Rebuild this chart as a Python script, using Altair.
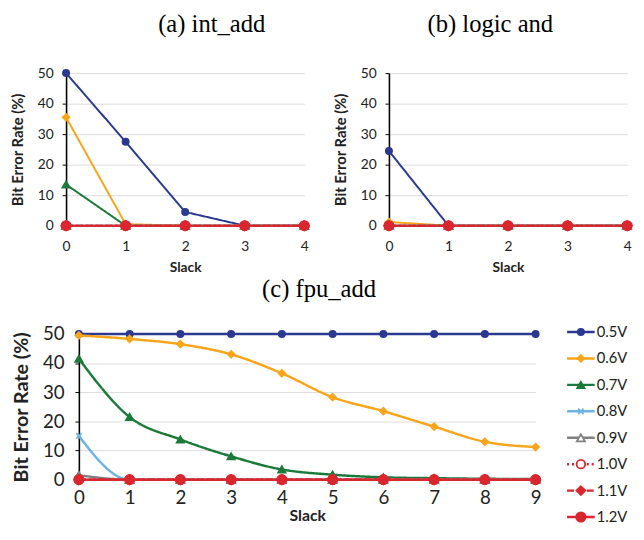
import altair as alt
import pandas as pd

voltages = ["0.5V", "0.6V", "0.7V", "0.8V", "0.9V", "1.0V", "1.1V", "1.2V"]
colors = ["#2B3990", "#F8A51C", "#1B7A3A", "#6DB3E3", "#808080", "#DA262E", "#DA262E", "#DA262E"]
fills = ["#2B3990", "#F8A51C", "#1B7A3A", "#6DB3E3", "white", "white", "#DA262E", "#DA262E"]
shapes = ["circle", "diamond", "triangle-up", "M-0.7,-0.7L0.7,0.7M-0.7,0.7L0.7,-0.7",
          "triangle-up", "circle", "diamond", "circle"]
dashes = [[1, 0], [1, 0], [1, 0], [1, 0], [1, 0], [2, 3], [7, 3], [1, 0]]

slack_ab = [0, 1, 2, 3, 4]
int_add = {
    "0.5V": [50, 27.5, 4.5, 0, 0],
    "0.6V": [35.5, 0.5, 0, 0, 0],
    "0.7V": [13.5, 0, 0, 0, 0],
    "0.8V": [0, 0, 0, 0, 0],
    "0.9V": [0, 0, 0, 0, 0],
    "1.0V": [0, 0, 0, 0, 0],
    "1.1V": [0, 0, 0, 0, 0],
    "1.2V": [0, 0, 0, 0, 0],
}
logic_and = {
    "0.5V": [24.5, 0, 0, 0, 0],
    "0.6V": [1.2, 0, 0, 0, 0],
    "0.7V": [0, 0, 0, 0, 0],
    "0.8V": [0, 0, 0, 0, 0],
    "0.9V": [0, 0, 0, 0, 0],
    "1.0V": [0, 0, 0, 0, 0],
    "1.1V": [0, 0, 0, 0, 0],
    "1.2V": [0, 0, 0, 0, 0],
}
slack_c = [0, 1, 2, 3, 4, 5, 6, 7, 8, 9]
fpu_add = {
    "0.5V": [50, 50, 50, 50, 50, 50, 50, 50, 50, 50],
    "0.6V": [49.5, 48.3, 46.5, 43, 36.5, 28.3, 23.5, 18.2, 13, 11.2],
    "0.7V": [41.5, 21.5, 13.8, 8, 3.5, 1.7, 0.8, 0.5, 0.3, 0.2],
    "0.8V": [15, 0, 0, 0, 0, 0, 0, 0, 0, 0],
    "0.9V": [1.5, 0, 0, 0, 0, 0, 0, 0, 0, 0],
    "1.0V": [0, 0, 0, 0, 0, 0, 0, 0, 0, 0],
    "1.1V": [0, 0, 0, 0, 0, 0, 0, 0, 0, 0],
    "1.2V": [0, 0, 0, 0, 0, 0, 0, 0, 0, 0],
}


def to_df(series, slacks):
    rows = []
    for i, v in enumerate(voltages):
        for s, b in zip(slacks, series[v]):
            rows.append({"voltage": v, "order": i, "slack": s, "ber": b})
    return pd.DataFrame(rows)


col_scale = alt.Scale(domain=voltages, range=colors)
fill_scale = alt.Scale(domain=voltages, range=fills)
shape_scale = alt.Scale(domain=voltages, range=shapes)
dash_scale = alt.Scale(domain=voltages, range=dashes)

SANS = "Lato"
SERIF = "Liberation Serif"


def panel_layers(df, xmax, lab, ytit, xtit, sw, msize, smooth, xlabpad, xtitpad, ylabpad, ytitpad):
    base = alt.Chart(df).encode(
        x=alt.X("slack:Q", scale=alt.Scale(domain=[0, xmax], nice=False),
                axis=alt.Axis(values=list(range(xmax + 1)), title="Slack", grid=False,
                              domain=True, domainColor="#BFBFBF", ticks=False,
                              labelFontSize=lab, titleFontSize=xtit, labelFont=SANS, titleFont=SANS,
                              labelColor="#222", titleColor="#222", titleFontWeight="bold",
                              labelPadding=xlabpad, titlePadding=xtitpad, labelFlush=False)),
        y=alt.Y("ber:Q", scale=alt.Scale(domain=[0, 50], nice=False),
                axis=alt.Axis(values=[0, 10, 20, 30, 40, 50], title="Bit Error Rate (%)",
                              grid=True, gridColor="#DCDCDC", gridWidth=1,
                              domainColor="black", domainWidth=1.6, tickColor="black", tickSize=4,
                              labelFontSize=lab, titleFontSize=ytit, labelFont=SANS, titleFont=SANS,
                              labelColor="#222", titleColor="#222", titleFontWeight="bold",
                              labelPadding=ylabpad, titlePadding=ytitpad)),
    )
    line = base.mark_line(strokeWidth=sw, interpolate="monotone" if smooth else "linear").encode(
        color=alt.Color("voltage:N", scale=col_scale, legend=None),
        strokeDash=alt.StrokeDash("voltage:N", scale=dash_scale, legend=None),
        order=alt.Order("order:Q"),
        detail="voltage:N",
    )
    pts = base.mark_point(opacity=1, strokeWidth=1.8, clip=False).encode(
        shape=alt.Shape("voltage:N", scale=shape_scale, legend=None),
        stroke=alt.Stroke("voltage:N", scale=col_scale, legend=None),
        fill=alt.Fill("voltage:N", scale=fill_scale, legend=None),
        size=alt.Size("voltage:N", scale=alt.Scale(domain=voltages, range=msize), legend=None),
        order=alt.Order("order:Q"),
    )
    return alt.layer(line, pts)


def title_params(text, dx, offset):
    return alt.TitleParams(text, font=SERIF, fontSize=25, fontWeight="normal",
                           color="black", anchor="middle", frame="group",
                           dx=dx, offset=offset)


size_ab = [40, 90, 80, 80, 70, 70, 80, 80]
size_c = [60, 150, 120, 130, 100, 100, 110, 110]

W_AB, H_AB = 242, 155
W_C, H_C = 464, 148

pa = panel_layers(to_df(int_add, slack_ab), 4, 14, 15, 14, 2, size_ab, False, 14, 8, 9, 12).properties(
    width=W_AB, height=H_AB, title=title_params("(a) int_add", 27, 30))
pb = panel_layers(to_df(logic_and, slack_ab), 4, 14, 15, 14, 2, size_ab, False, 14, 8, 9, 12).properties(
    width=W_AB, height=H_AB, title=title_params("(b) logic and", -18, 30))

pc_core = panel_layers(to_df(fpu_add, slack_c), 9, 19, 20, 16, 2.5, size_c, True, 9, 1, 11, 11)

# legend for panel (c), drawn to the right of its plot area
leg_df = pd.DataFrame({"voltage": voltages, "idx": list(range(len(voltages)))})
leg_x = alt.Scale(domain=[0, 1], range=[W_C + 32, W_C + 60], nice=False)
lbase = alt.Chart(leg_df).encode(
    y=alt.Y("idx:Q", scale=alt.Scale(domain=[0, 7], range=[-2, 186], nice=False), axis=None)
)
lrule = lbase.mark_rule(strokeWidth=2.5).encode(
    x=alt.X(datum=0, scale=leg_x, axis=None),
    x2=alt.X2(datum=1),
    color=alt.Color("voltage:N", scale=col_scale, legend=None),
    strokeDash=alt.StrokeDash("voltage:N", scale=dash_scale, legend=None),
)
lpts = lbase.mark_point(opacity=1, strokeWidth=1.8).encode(
    x=alt.X(datum=0.5, scale=leg_x, axis=None),
    shape=alt.Shape("voltage:N", scale=shape_scale, legend=None),
    stroke=alt.Stroke("voltage:N", scale=col_scale, legend=None),
    fill=alt.Fill("voltage:N", scale=fill_scale, legend=None),
    size=alt.Size("voltage:N", scale=alt.Scale(domain=voltages, range=size_c), legend=None),
)
ltxt = lbase.mark_text(align="left", baseline="middle", dx=2, fontSize=15, font=SANS, color="#222").encode(
    x=alt.X(datum=1, scale=leg_x, axis=None),
    text="voltage:N",
)
leg_layer = alt.layer(lrule, lpts, ltxt)

pc = alt.layer(pc_core, leg_layer).resolve_scale(x="independent", y="independent").properties(
    width=W_C, height=H_C, title=title_params("(c) fpu_add", 12, 24))

spacer = alt.Chart(pd.DataFrame({"s": [0]})).mark_rule(opacity=0).encode(
    x=alt.value(0), y=alt.value(0), y2=alt.value(1)
).properties(width=1, height=1)

top = alt.hconcat(pa, pb, spacing=20)
bottom = alt.hconcat(spacer, pc, spacing=-57)
chart = alt.vconcat(top, bottom, spacing=2).properties(
    padding={"left": 2, "top": 0, "right": 0, "bottom": 0}
).configure_view(stroke=None)

chart.save("out.html", embed_options={"renderer": "svg", "actions": False})
